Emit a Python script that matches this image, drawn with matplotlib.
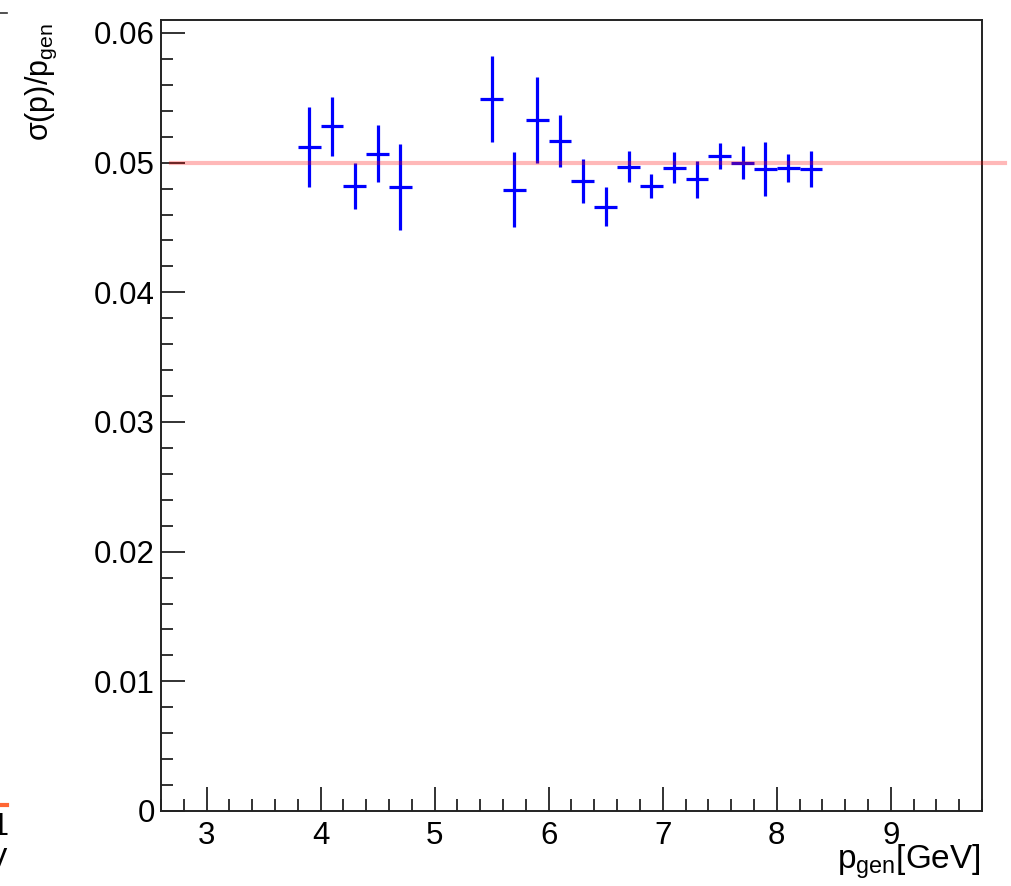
import matplotlib
matplotlib.use('Agg')
import matplotlib.pyplot as plt
from matplotlib.ticker import MultipleLocator, FixedLocator, FixedFormatter
from matplotlib.lines import Line2D

plt.rcParams['font.family'] = ['Liberation Sans', 'DejaVu Sans']
plt.rcParams['mathtext.fontset'] = 'custom'
plt.rcParams['mathtext.rm'] = 'Liberation Sans'
plt.rcParams['mathtext.it'] = 'Liberation Sans'

# resolution points (bin centres, value, error)
p_gen = [3.9, 4.1, 4.3, 4.5, 4.7, 5.5, 5.7, 5.9, 6.1, 6.3, 6.5, 6.7, 6.9,
         7.1, 7.3, 7.5, 7.7, 7.9, 8.1, 8.3]
sigma = [0.0512, 0.0528, 0.0482, 0.0507, 0.0481, 0.0549, 0.0479, 0.0533,
         0.0517, 0.0486, 0.0466, 0.0497, 0.0482, 0.0496, 0.0487, 0.0505,
         0.0500, 0.0495, 0.0496, 0.0495]
sigma_err = [0.0031, 0.0023, 0.0018, 0.0022, 0.0033, 0.0033, 0.0029, 0.0033,
             0.0020, 0.0017, 0.0015, 0.0012, 0.0009, 0.0012, 0.0014, 0.0010,
             0.0013, 0.0021, 0.0011, 0.0014]
bin_half = 0.1

# constant reference line
fit_x = [2.69, 10.0]
fit_y = [0.05, 0.05]

y_ticks = [0.0, 0.01, 0.02, 0.03, 0.04, 0.05, 0.06]
y_labels = ['0', '0.01', '0.02', '0.03', '0.04', '0.05', '0.06']

W, H = 1012, 886
fig = plt.figure(figsize=(W / 100, H / 100), dpi=100)
ax = fig.add_axes([161 / W, 1 - 811 / H, (982 - 161) / W, (811 - 20) / H])

ax.errorbar(p_gen, sigma, yerr=sigma_err, xerr=bin_half, fmt='none',
            ecolor='#0000ff', elinewidth=2.3, capsize=0, zorder=3)
ax.plot(fit_x, fit_y, color='red', alpha=0.28, lw=3, clip_on=False, zorder=4)

ax.set_xlim(2.6, 9.8)
ax.set_ylim(0, 0.061)

ax.xaxis.set_major_locator(MultipleLocator(1))
ax.xaxis.set_minor_locator(MultipleLocator(0.2))
ax.yaxis.set_major_locator(FixedLocator(y_ticks))
ax.yaxis.set_major_formatter(FixedFormatter(y_labels))
ax.yaxis.set_minor_locator(MultipleLocator(0.002))

ax.tick_params(which='both', direction='in', top=False, right=False,
               labelsize=22.5, width=1.3, colors='#222222', labelcolor='black')
ax.tick_params(which='major', length=17)
ax.tick_params(which='minor', length=8.5)
ax.tick_params(axis='x', pad=7)
ax.tick_params(axis='y', pad=4.5)
for s in ax.spines.values():
    s.set_linewidth(1.4)
    s.set_color('#222222')

fig.text(48 / W, 1 - 23 / H, r'σ(p)/p$_{\mathregular{gen}}$', rotation=90,
         rotation_mode='anchor', ha='right', va='baseline', fontsize=22)
fig.text(981 / W, 1 - 869 / H, r'p$_{\mathregular{gen}}$[GeV]',
         ha='right', va='baseline', fontsize=24)

# bits of the neighbouring pad cut off at the left edge
fig.add_artist(Line2D([0, 7 / W], [1 - 13 / H, 1 - 13 / H], color='#333333', lw=1.2))
fig.add_artist(Line2D([0, 7 / W], [1 - 805 / H, 1 - 805 / H], color='#ff6633', lw=3))
fig.text(9 / W, 1 - 835 / H, '1', ha='right', va='baseline', fontsize=22)
fig.text(7 / W, 1 - 870 / H, 'V', ha='right', va='baseline', fontsize=22)

fig.savefig('out.png', dpi=100)
